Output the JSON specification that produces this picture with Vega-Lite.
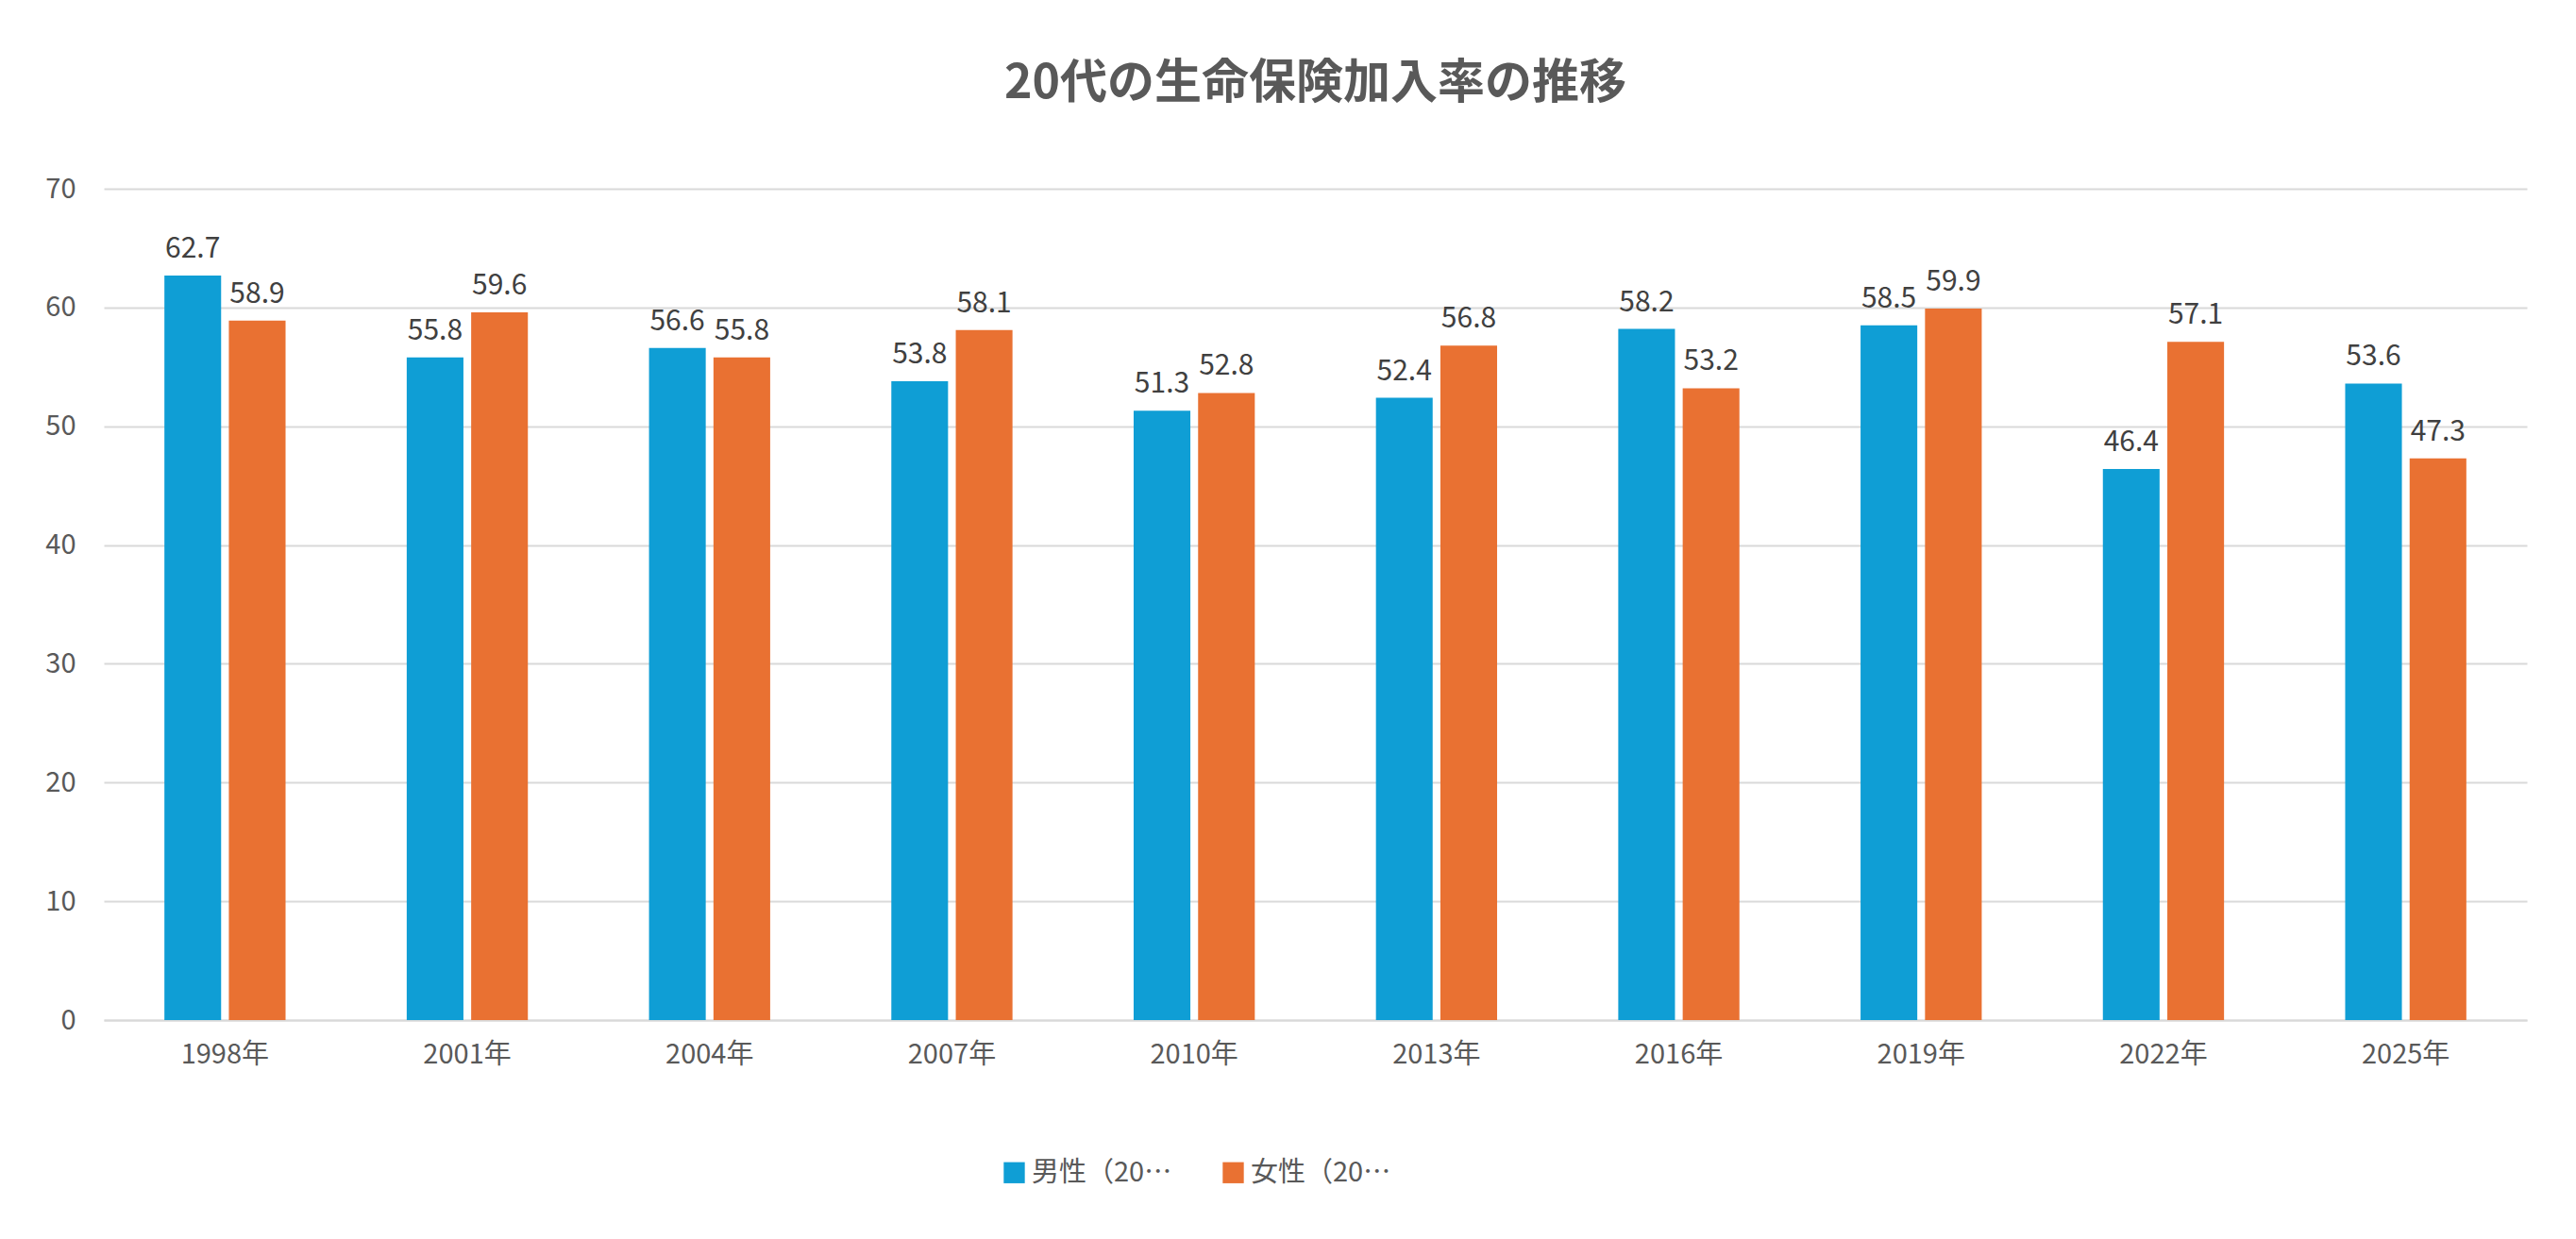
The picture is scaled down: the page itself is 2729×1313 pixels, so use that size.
{
  "$schema": "https://vega.github.io/schema/vega-lite/v6.json",
  "width": 2567,
  "height": 881,
  "autosize": {"type": "none"},
  "padding": {"left": 110, "top": 200, "right": 52, "bottom": 232},
  "background": "white",
  "title": {
    "text": "20代の生命保険加入率の推移",
    "fontSize": 50,
    "font": "Noto Sans CJK JP",
    "fontWeight": "bold",
    "color": "#595959",
    "anchor": "middle",
    "offset": 72
  },
  "config": {
    "view": {"stroke": null},
    "font": "Noto Sans CJK JP"
  },
  "data": {
    "values": [
      {"year": "1998年", "group": "男性（20代）", "rate": 62.7},
      {"year": "1998年", "group": "女性（20代）", "rate": 58.9},
      {"year": "2001年", "group": "男性（20代）", "rate": 55.8},
      {"year": "2001年", "group": "女性（20代）", "rate": 59.6},
      {"year": "2004年", "group": "男性（20代）", "rate": 56.6},
      {"year": "2004年", "group": "女性（20代）", "rate": 55.8},
      {"year": "2007年", "group": "男性（20代）", "rate": 53.8},
      {"year": "2007年", "group": "女性（20代）", "rate": 58.1},
      {"year": "2010年", "group": "男性（20代）", "rate": 51.3},
      {"year": "2010年", "group": "女性（20代）", "rate": 52.8},
      {"year": "2013年", "group": "男性（20代）", "rate": 52.4},
      {"year": "2013年", "group": "女性（20代）", "rate": 56.8},
      {"year": "2016年", "group": "男性（20代）", "rate": 58.2},
      {"year": "2016年", "group": "女性（20代）", "rate": 53.2},
      {"year": "2019年", "group": "男性（20代）", "rate": 58.5},
      {"year": "2019年", "group": "女性（20代）", "rate": 59.9},
      {"year": "2022年", "group": "男性（20代）", "rate": 46.4},
      {"year": "2022年", "group": "女性（20代）", "rate": 57.1},
      {"year": "2025年", "group": "男性（20代）", "rate": 53.6},
      {"year": "2025年", "group": "女性（20代）", "rate": 47.3}
    ]
  },
  "encoding": {
    "x": {
      "field": "year",
      "type": "nominal",
      "title": null,
      "scale": {"paddingInner": 0.5, "paddingOuter": 0.25},
      "axis": {
        "labelAngle": 0,
        "labelFontSize": 29,
        "labelColor": "#595959",
        "labelPadding": 22,
        "domainColor": "#d9d9d9",
        "domainWidth": 2,
        "ticks": false
      }
    },
    "xOffset": {
      "field": "group",
      "type": "nominal",
      "sort": ["男性（20代）", "女性（20代）"],
      "scale": {"paddingInner": 0.12}
    },
    "y": {
      "field": "rate",
      "type": "quantitative",
      "title": null,
      "scale": {"domain": [0, 70]},
      "axis": {
        "values": [0, 10, 20, 30, 40, 50, 60, 70],
        "labelFontSize": 29,
        "labelColor": "#595959",
        "labelPadding": 30,
        "domain": false,
        "ticks": false,
        "gridColor": "#d9d9d9",
        "gridWidth": 2
      }
    }
  },
  "layer": [
    {
      "mark": {"type": "bar"},
      "encoding": {
        "color": {
          "field": "group",
          "type": "nominal",
          "sort": ["男性（20代）", "女性（20代）"],
          "scale": {"domain": ["男性（20代）", "女性（20代）"], "range": ["#0f9ed5", "#e97132"]},
          "legend": {
            "title": null,
            "orient": "none",
            "direction": "horizontal",
            "legendX": 950,
            "legendY": 1028,
            "labelFontSize": 29,
            "labelColor": "#595959",
            "symbolType": "square",
            "symbolSize": 500,
            "columnPadding": 50
          }
        }
      }
    },
    {
      "mark": {"type": "text", "dy": -28, "fontSize": 30, "color": "#404040"},
      "encoding": {
        "text": {"field": "rate", "type": "quantitative", "format": ".1f"}
      }
    }
  ]
}
